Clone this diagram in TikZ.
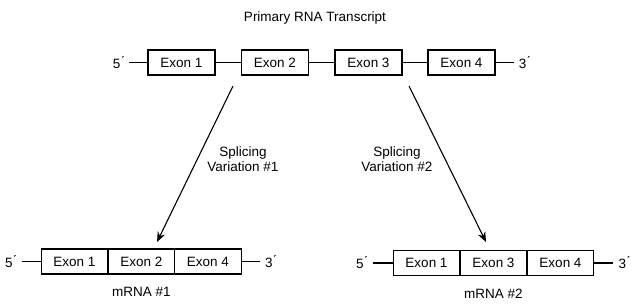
\documentclass[tikz,border=0pt]{standalone}
\usepackage{fontspec}
\setmainfont{Liberation Sans}
\usepackage{tikz}
\usetikzlibrary{positioning,arrows.meta}

\begin{document}
\begin{tikzpicture}[x=1pt,y=-1pt,
    font=\fontsize{13.5}{15.5}\selectfont,
    exon/.style={draw,line width=1.1pt,minimum width=67pt,minimum height=25pt,inner sep=0pt},
    cell/.style={draw,line width=1.1pt,minimum width=66.7pt,minimum height=25pt,inner sep=0pt},
    tail/.style={inner xsep=5pt,inner ysep=1pt},
    strand/.style={line width=1.1pt},
    splice/.style={line width=1.1pt,-{Stealth[length=10pt,width=8pt]}}]
  \useasboundingbox (0,0) rectangle (640,307);
  % primary transcript
  \node (title) at (315,18) {Primary RNA Transcript};
  \foreach \i/\x in {1/181.5,2/275,3/368.5,4/461.5}
    \node[exon] (e\i) at (\x,62.5) {Exon \i};
  \node[tail,left=18pt of e1] (p5) {5\'{}};
  \node[tail,right=18pt of e4] (p3) {3\'{}};
  \draw[strand] (p5) -- (e1) -- (e2) -- (e3) -- (e4) -- (p3);
  % mRNA #1
  \foreach \i/\x/\n in {1/74.5/1,2/141.5/2,3/208/4}
    \node[cell] (a\i) at (\x,261.5) {Exon \n};
  \node[tail,left=19pt of a1] (a5p) {5\'{}};
  \node[tail,right=18pt of a3] (a3p) {3\'{}};
  \draw[strand] (a5p) -- (a1);
  \draw[strand] (a3) -- (a3p);
  \node[below=9pt of a2] (m1) {mRNA \#1};
  % mRNA #2
  \foreach \i/\x/\n in {1/426.5/1,2/493.5/3,3/560.5/4}
    \node[cell] (b\i) at (\x,263) {Exon \n};
  \node[tail,left=20pt of b1] (b5p) {5\'{}};
  \node[tail,right=19pt of b3] (b3p) {3\'{}};
  \draw[strand] (b5p) -- (b1);
  \draw[strand] (b3) -- (b3p);
  \node[below=9pt of b2] (m2) {mRNA \#2};
  % splicing
  \coordinate (s1) at (233,86);
  \coordinate (t1) at (157,242);
  \coordinate (s2) at (409,86);
  \coordinate (t2) at (486,242);
  \draw[splice] (s1) -- (t1);
  \draw[splice] (s2) -- (t2);
  \node[align=center] (v1) at (243,159) {Splicing\\Variation \#1};
  \node[align=center] (v2) at (397,159) {Splicing\\Variation \#2};
\end{tikzpicture}
\end{document}
